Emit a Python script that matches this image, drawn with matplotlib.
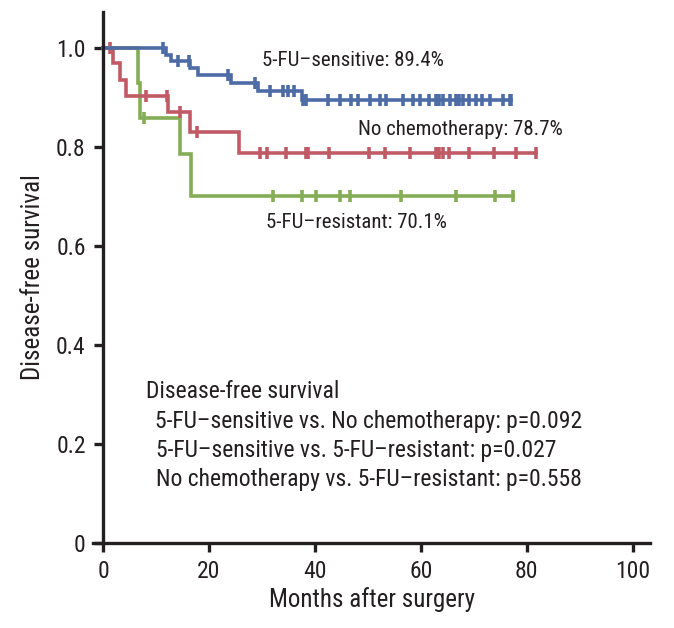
import numpy as np
import matplotlib
matplotlib.use("Agg")
import matplotlib.pyplot as plt

plt.rcParams['font.family'] = ['Roboto Condensed', 'DejaVu Sans']

# Kaplan-Meier steps (months, survival)
sens_t = [0, 11.9, 12.8, 16.4, 17.9, 24.2, 29.3, 37.5, 77.1]
sens_s = [1.0, 0.986, 0.972, 0.958, 0.944, 0.928, 0.912, 0.894, 0.894]
sens_cens = [11.3, 14.2, 16.2, 23.6, 28.7, 31.5, 34.0, 35.0, 36.0,
             37.8, 38.3, 42.5, 44.7, 46.9, 48.2, 50.4, 52.3, 53.5, 56.7,
             58.5, 59.8, 61.6, 62.9, 63.5, 64.2, 65.5, 66.7, 67.3, 68.0,
             69.2, 70.5, 71.5, 73.0, 75.5, 76.8, 77.1]

none_t = [0, 1.9, 3.3, 4.4, 12.3, 16.5, 25.6, 81.8]
none_s = [1.0, 0.968, 0.935, 0.903, 0.869, 0.829, 0.787, 0.787]
none_cens = [1.3, 8.2, 12.1, 14.5, 17.7, 29.6, 30.9, 34.6, 38.4, 38.7,
             42.7, 50.2, 53.2, 58.0, 62.9, 63.4, 64.2, 65.3, 69.2, 73.8,
             78.0, 81.8]

res_t = [0, 6.6, 7.0, 14.5, 16.6, 77.5]
res_s = [1.0, 0.929, 0.857, 0.786, 0.701, 0.701]
res_cens = [7.8, 32.1, 37.5, 40.2, 44.7, 46.6, 56.3, 66.7, 74.0, 77.5]

curve_labels = ["5-FU\u2013sensitive: 89.4%", "No chemotherapy: 78.7%", "5-FU\u2013resistant: 70.1%"]
stats_lines = [
    "Disease-free survival",
    "5-FU\u2013sensitive vs. No chemotherapy: p=0.092",
    "5-FU\u2013sensitive vs. 5-FU\u2013resistant: p=0.027",
    "No chemotherapy vs. 5-FU\u2013resistant: p=0.558",
]

blue = "#4d6ca6"
red = "#c05b66"
green = "#84ad55"
txt = "#231f20"


def surv_at(times, surv, t):
    i = np.searchsorted(times, t, side="right") - 1
    return surv[i]


fig = plt.figure(figsize=(6.74, 6.28), dpi=100)
ax = fig.add_axes([0.1387, 0.1354, 0.8257, 0.8456])

for times, surv, cens, col in [
    (res_t, res_s, res_cens, green),
    (none_t, none_s, none_cens, red),
    (sens_t, sens_s, sens_cens, blue),
]:
    ax.step(times, surv, where="post", color=col, lw=2.6, solid_joinstyle="miter")
    ys = [surv_at(times, surv, c) for c in cens]
    ax.plot(cens, ys, ls="none", marker="|", ms=8, mew=2.6, color=col)

ax.set_xlim(-1.8, 103.3)
ax.set_ylim(0, 1.072)
ax.spines["left"].set_position(("data", 0))
ax.spines["top"].set_visible(False)
ax.spines["right"].set_visible(False)
for s in ["left", "bottom"]:
    ax.spines[s].set_linewidth(2.4)
    ax.spines[s].set_color(txt)
    ax.spines[s].set_capstyle("projecting")

ax.set_xticks([0, 20, 40, 60, 80, 100])
ax.set_yticks([0, 0.2, 0.4, 0.6, 0.8, 1.0])
ax.set_yticklabels(["0", "0.2", "0.4", "0.6", "0.8", "1.0"])
ax.tick_params(width=2.4, length=6.5, color=txt, labelcolor=txt, labelsize=17, pad=6)

ax.set_xlabel("Months after surgery", fontsize=18, color=txt, labelpad=3)
ax.set_ylabel("Disease-free survival", fontsize=18, color=txt, labelpad=8)

# curve labels
for (x, y), s in zip([(30.0, 0.962), (48.1, 0.824), (30.7, 0.635)], curve_labels):
    ax.text(x, y, s, fontsize=15, color=txt, va="baseline")

# log-rank block
for (x, y), s in zip([(8.2, 0.292), (9.9, 0.232), (10.1, 0.174), (10.1, 0.114)], stats_lines):
    ax.text(x, y, s, fontsize=17, color=txt, va="baseline")

fig.savefig("out.png", dpi=100)
